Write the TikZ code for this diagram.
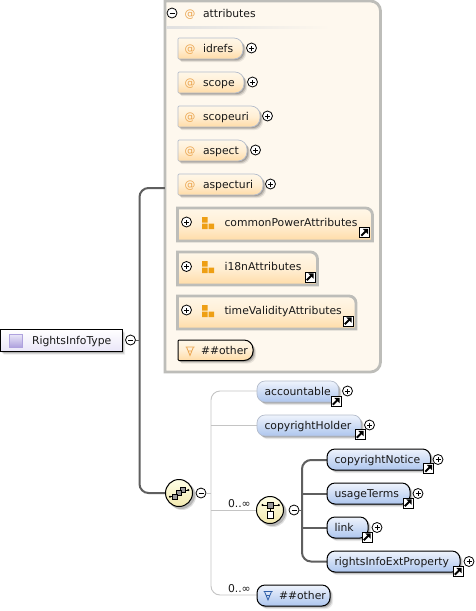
\documentclass[tikz,border=0pt]{standalone}
\usepackage{fontspec}
\setmainfont{DejaVu Sans}
\usetikzlibrary{calc}
\definecolor{boxfill}{HTML}{FEF8EE}
\definecolor{boxedge}{HTML}{BDBDB9}
\definecolor{wire}{HTML}{5F5F5F}
\definecolor{lightwire}{HTML}{C4C4C4}
\definecolor{orangeT}{HTML}{FFF7E8}
\definecolor{orangeB}{HTML}{FFDBA6}
\definecolor{blueT}{HTML}{EEF3FC}
\definecolor{blueB}{HTML}{AEC6EE}
\definecolor{softblue}{HTML}{B4BCCB}
\definecolor{atcol}{HTML}{EBA651}
\definecolor{grp}{HTML}{EE9F14}
\definecolor{wildblue}{HTML}{2F5FA8}
\definecolor{creamT}{HTML}{FFFFE6}
\definecolor{creamB}{HTML}{F2E9B0}
\definecolor{rootT}{HTML}{E9E6F8}
\definecolor{rootB}{HTML}{AFA2DE}
\newcommand{\labelsize}{\fontsize{10.8}{13}\selectfont}
\tikzset{
 x=1pt,y=-1pt,
 every node/.style={inner sep=0pt,outer sep=0pt},
 txt/.style={anchor=base west,font=\labelsize,text=black!90},
 orangefill/.style={top color=orangeT,bottom color=orangeB,middle color=orangeT!70!orangeB},
 bluefill/.style={top color=blueT,bottom color=blueB},
 grayedge/.style={draw=boxedge,line width=2.8pt},
 softedge/.style={draw=softblue,line width=.7pt},
 hardedge/.style={draw=black,line width=1pt},
 plusb/.style={circle,draw=black,line width=.8pt,fill=white,minimum size=10pt,
   path picture={\draw[line width=.7pt] ([xshift=-2.5pt]path picture bounding box.center) -- ([xshift=2.5pt]path picture bounding box.center)
     ([yshift=-2.5pt]path picture bounding box.center) -- ([yshift=2.5pt]path picture bounding box.center);}},
 minusb/.style={circle,draw=black,line width=.8pt,fill=white,minimum size=10pt,
   path picture={\draw[line width=.7pt] ([xshift=-2.5pt]path picture bounding box.center) -- ([xshift=2.5pt]path picture bounding box.center);}},
 wireline/.style={draw=wire,line width=2pt,rounded corners=9pt},
 softline/.style={draw=lightwire,line width=.9pt,rounded corners=9pt},
 stub/.style={draw=wire,line width=1pt},
 compositor/.style={circle,hardedge,top color=creamT,bottom color=creamB,minimum size=27pt},
}
% x0 y0 x1 y1 left-radius right-top-radius right-bottom-radius
\newcommand{\shp}[7]{({#1+#5},#2) -- ({#3-#6},#2) .. controls ({#3-.45*#6},#2) and (#3,{#2+.45*#6}) .. (#3,{#2+#6}) -- (#3,{#4-#7}) .. controls (#3,{#4-.45*#7}) and ({#3-.45*#7},#4) .. ({#3-#7},#4) -- ({#1+#5},#4) .. controls ({#1+.45*#5},#4) and (#1,{#4-.45*#5}) .. (#1,{#4-#5}) -- (#1,{#2+#5}) .. controls (#1,{#2+.45*#5}) and ({#1+.45*#5},#2) .. ({#1+#5},#2) -- cycle}
\newcommand{\shadowof}[7]{%
 \fill[black,opacity=.08,shift={(3.2,3.2)}] \shp{#1}{#2}{#3}{#4}{#5}{#6}{#7};
 \fill[black,opacity=.14,shift={(2.2,2.2)}] \shp{#1}{#2}{#3}{#4}{#5}{#6}{#7};
 \fill[black,opacity=.18,shift={(1.2,1.2)}] \shp{#1}{#2}{#3}{#4}{#5}{#6}{#7};}
% name x0 y0 x1 y1 label
\newcommand{\attr}[6]{%
 \shadowof{#2}{#3}{#4}{#5}{1}{9}{9}
 \path[orangefill,softedge] \shp{#2}{#3}{#4}{#5}{1}{9}{9};
 \node[txt,text=atcol] at ({#2+6.5},{#3+14.3}) {@};
 \node[txt] (#1) at ({#2+25},{#3+14.3}) {#6};}
% name x0 y0 x1 y1 label
\newcommand{\group}[6]{%
 \path[orangefill,grayedge] \shp{#2}{#3}{#4}{#5}{0}{7}{0};
 \node[txt] (#1) at ({#2+47},{#3+18}) {#6};
 \fill[grp] ({#2+24.5},{#3+9}) rectangle ++(5.7,5.7)
            ({#2+24.5},{#3+15.5}) rectangle ++(5.7,5.7)
            ({#2+31},{#3+15.5}) rectangle ++(5.7,5.7);}
% name x y : link marker
\newcommand{\linkm}[3]{%
 \node[draw=black,fill=white,line width=1pt,minimum size=10pt] (#1) at (#2,#3) {};
 \fill[black] ($(#1)+(3.6,-3.6)$) -- ($(#1)+(-1.6,-3.6)$) -- ($(#1)+(3.6,1.6)$) -- cycle;
 \draw[black,line width=1.8pt] ($(#1)+(-3.2,3.2)$) -- ($(#1)+(1.5,-1.5)$);}
% name x0 y0 x1 y1 label edge
\newcommand{\elem}[7]{%
 \shadowof{#2}{#3}{#4}{#5}{8}{8}{8}
 \path[bluefill,#7] \shp{#2}{#3}{#4}{#5}{8}{8}{8};
 \node[txt] (#1) at ({#2+7.5},{#3+14}) {#6};}
% wildcard symbol
\newcommand{\wild}[3]{\draw[draw=#3,line width=.8pt] (#1-4.5,#2-4) -- (#1+4.5,#2-4) (#1-3.5,#2-4) -- (#1,#2+4.5) -- (#1+3.5,#2-4) (#1-2.2,#2) -- (#1+2.2,#2);}
\begin{document}
\begin{tikzpicture}
\useasboundingbox (0,0) rectangle (476,611);
\fill[white] (0,0) rectangle (476,611);

% attributes container
\path[fill=boxfill,grayedge] \shp{165}{1}{380.5}{372}{0}{10}{10};
\node[minimum width=216pt,minimum height=371pt] (attrs) at (272.75,186.5) {};
\shade[left color=black!12,right color=boxfill] (166.5,26.4) rectangle (330,28);
\node[minusb] (mattrs) at (172,13) {};
\node[txt,text=atcol] at (184.5,17) {@};
\node[txt] (attrtitle) at (203,17) {attributes};

\attr{idrefs}{178}{38}{243}{59}{idrefs}
\node[plusb] (pidrefs) at (251.5,48) {};
\attr{scope}{178}{72}{244}{93}{scope}
\node[plusb] (pscope) at (252.5,82) {};
\attr{scopeuri}{178}{106}{260}{127}{scopeuri}
\node[plusb] (pscopeuri) at (267.5,116) {};
\attr{aspect}{178}{140}{247}{161}{aspect}
\node[plusb] (paspect) at (255.5,150) {};
\attr{aspecturi}{178}{174}{263}{195}{aspecturi}
\node[plusb] (paspecturi) at (270.5,184) {};

\group{cpa}{177.5}{208}{372.5}{241}{commonPowerAttributes}
\node[plusb] (pcpa) at (186.5,222) {};
\linkm{lcpa}{364.5}{232.5}
\group{i18n}{177.5}{252}{317.5}{285}{i18nAttributes}
\node[plusb] (pi18n) at (186.5,266.5) {};
\linkm{li18n}{310}{277}
\group{tva}{177.5}{296}{356}{329}{timeValidityAttributes}
\node[plusb] (ptva) at (186.5,310) {};
\linkm{ltva}{348}{321}

% attribute wildcard
\shadowof{178}{340}{253}{360.5}{1}{9}{9}
\path[orangefill,hardedge] \shp{178}{340}{253}{360.5}{1}{9}{9};
\wild{190}{351}{atcol}
\node[txt] (aother) at (201,354) {\#\#other};

% root
\shadowof{0.5}{329.5}{122}{351.5}{0}{0}{0}
\path[top color=white,bottom color=rootT,hardedge] (0.5,329.5) rectangle (122,351.5);
\path[top color=rootT,bottom color=rootB,draw=rootB,line width=.8pt] (9.5,334.5) rectangle (22,347);
\node[txt] (root) at (32,344) {RightsInfoType};
\node[minusb] (mroot) at (130.5,340) {};

% main connectors
\coordinate (trunk) at (139.5,340);
\coordinate (seqanchor) at (179,493);
\draw[stub] (mroot.east) -- (trunk);
\draw[wireline] ([yshift=-1.5pt]attrs.west) -| (trunk) |- (seqanchor);

% sequence compositor
\fill[black,opacity=.12] (182,496) circle[radius=14];
\fill[black,opacity=.18] (181,495) circle[radius=14];
\node[compositor] (seq) at (179,493) {};
\draw[line width=.8pt] (169,496.7) -- (173,496.7) (185,490) -- (189,490);
\foreach \px/\py in {180.2/487.6,176.6/490,172.8/494}{\draw[fill=black!40,draw=black,line width=.8pt] (\px,\py) rectangle ++(5,5);}
\fill (170,496.7) circle[radius=1.2] (188.3,490) circle[radius=1.2];
\node[minusb] (mseq) at (201,493) {};

% soft bracket
\coordinate (bracket) at (211,493);
\coordinate (choiceanchor) at (270,510);
\coordinate (acc) at (257,391);
\coordinate (hol) at (257,425);
\coordinate (oth) at (257,595);
\draw[softline] (acc) -| (bracket) |- (oth);
\draw[softline] (bracket |- hol) -- (hol);
\draw[softline] (bracket |- choiceanchor) -- (choiceanchor);
\draw[draw=lightwire,line width=.9pt] (mseq.east) -- (bracket);
\elem{accountable}{257}{381}{338.5}{402}{accountable}{softedge}
\linkm{laccountable}{336}{401.5}
\node[plusb] (paccountable) at (347.5,391) {};
\elem{holder}{257}{415}{361}{436}{copyrightHolder}{softedge}
\linkm{lholder}{360}{434.5}
\node[plusb] (pholder) at (369.5,425) {};
\node[txt] (c1) at (228,507) {0..∞};
\node[txt] (c2) at (228,592) {0..∞};

% choice compositor
\fill[black,opacity=.12] (273,513) circle[radius=14];
\fill[black,opacity=.18] (272,512) circle[radius=14];
\node[compositor] (choice) at (270,510) {};
\draw[line width=.8pt] (262,505) -- (279,505) (270.5,507) -- (270.5,512);
\draw[fill=black!40,line width=.8pt] (267.3,502) rectangle ++(6.5,6);
\draw[fill=white,line width=.8pt] (267.3,511.7) rectangle ++(6.5,6.5);
\fill (262.5,505) circle[radius=1.2] (278.8,505) circle[radius=1.2];
\node[minusb] (mchoice) at (294,510) {};

% choice branches
\coordinate (fork) at (302,510);
\coordinate (e1) at (327,460);
\coordinate (e2) at (327,493.5);
\coordinate (e3) at (327,527.5);
\coordinate (e4) at (327,561.5);
\draw[wireline] (e1) -| (fork) |- (e4);
\draw[draw=wire,line width=2pt] (fork |- e2) -- (e2) (fork |- e3) -- (e3);
\draw[stub] (mchoice.east) -- (fork);
\elem{notice}{327}{449}{430.5}{470}{copyrightNotice}{hardedge}
\elem{terms}{327}{483}{410}{504}{usageTerms}{hardedge}
\elem{linkel}{327}{517}{368}{538}{link}{hardedge}
\elem{ext}{327}{551}{460}{572}{rightsInfoExtProperty}{hardedge}
\linkm{lnotice}{428.5}{468.5}
\node[plusb] (pnotice) at (438,459.5) {};
\linkm{lterms}{408}{503}
\node[plusb] (pterms) at (418,493.5) {};
\linkm{llink}{367}{537}
\node[plusb] (plink) at (377,527.5) {};
\linkm{lext}{458}{571.5}
\node[plusb] (pext) at (469,561.5) {};

% element wildcard
\shadowof{257}{585}{330}{606}{8}{8}{8}
\path[bluefill,hardedge] \shp{257}{585}{330}{606}{8}{8}{8};
\wild{268}{595.5}{wildblue}
\node[txt] (eother) at (279,599) {\#\#other};
\end{tikzpicture}
\end{document}
